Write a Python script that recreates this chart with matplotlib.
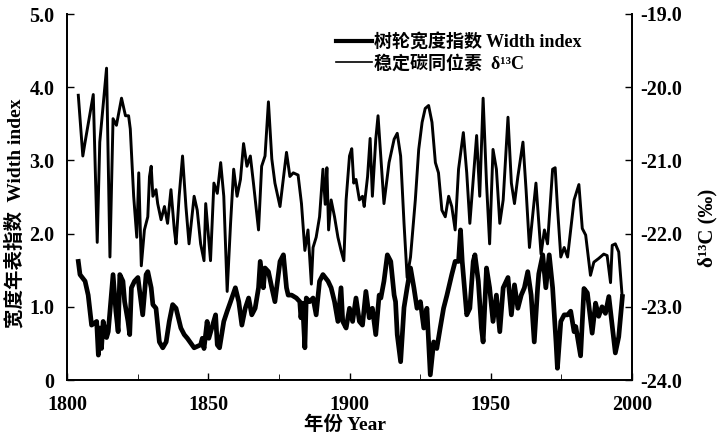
import matplotlib
matplotlib.use("Agg")
import matplotlib.pyplot as plt
from matplotlib.lines import Line2D

# 稳定碳同位素 δ13C (‰), 读图估计的转折点
d13c_years = [1804.0, 1805.6, 1806.4, 1809.3, 1810.7, 1811.6, 1814.0, 1815.2, 1816.3, 1817.5,
              1819.3, 1820.7, 1821.8, 1822.4, 1823.6, 1824.7, 1825.4, 1826.3, 1827.4, 1828.6,
              1829.2, 1829.8, 1830.4, 1831.5, 1832.1, 1833.3, 1834.5, 1835.6, 1836.8, 1838.0,
              1838.6, 1839.7, 1840.9, 1842.1, 1843.2, 1845.0, 1846.1, 1847.3, 1848.5, 1849.1,
              1850.8, 1852.0, 1853.2, 1854.4, 1855.5, 1856.7, 1857.9, 1859.0, 1860.2, 1861.4,
              1862.5, 1863.7, 1864.9, 1866.0, 1867.8, 1868.9, 1870.1, 1871.3, 1872.5, 1873.6,
              1875.4, 1877.7, 1878.9, 1880.1, 1881.8, 1883.0, 1884.2, 1885.3, 1886.5, 1887.1,
              1888.2, 1889.4, 1890.6, 1891.4, 1892.0, 1892.6, 1893.5, 1894.7, 1895.9, 1897.0,
              1898.0, 1898.8, 1900.0, 1900.8, 1901.5, 1902.3, 1903.5, 1904.6, 1905.2, 1906.4,
              1907.3, 1908.1, 1909.3, 1910.1, 1912.2, 1914.0, 1915.8, 1916.9, 1918.1, 1919.3,
              1920.4, 1921.6, 1923.3, 1924.5, 1925.7, 1926.8, 1928.0, 1929.2, 1930.4, 1931.5,
              1932.7, 1933.9, 1935.1, 1936.2, 1937.4, 1938.6, 1940.3, 1941.5, 1942.6, 1945.0,
              1946.1, 1947.3, 1948.5, 1949.6, 1950.8, 1952.0, 1953.2, 1954.4, 1956.1, 1957.3,
              1958.4, 1959.6, 1961.4, 1962.5, 1963.7, 1966.0, 1967.8, 1969.0, 1970.1, 1971.9,
              1972.8, 1973.6, 1974.8, 1976.0, 1977.2, 1979.5, 1981.2, 1982.4, 1983.6, 1985.3,
              1986.5, 1988.2, 1990.0, 1991.2, 1992.4, 1993.0, 1994.1, 1995.3, 1996.6]
d13c_vals = [-20.11, -20.94, -20.75, -20.10, -22.12, -20.75, -19.74, -22.32, -20.43, -20.52,
             -20.15, -20.39, -20.39, -20.57, -21.49, -22.05, -21.17, -22.44, -21.95, -21.77,
             -21.22, -21.08, -21.49, -21.40, -21.59, -21.81, -21.63, -21.86, -21.40, -21.95,
             -22.14, -21.49, -20.94, -21.63, -22.14, -21.49, -21.68, -22.14, -22.37, -21.59,
             -22.37, -21.31, -21.45, -21.03, -21.49, -22.79, -21.86, -21.12, -21.49, -21.26,
             -20.77, -21.08, -20.94, -21.31, -21.95, -21.08, -20.94, -20.20, -20.98, -21.31,
             -21.63, -20.89, -21.22, -21.17, -21.20, -21.59, -22.23, -21.95, -22.69, -22.19,
             -22.05, -21.77, -21.12, -21.60, -21.10, -21.95, -21.54, -21.77, -22.05, -22.23,
             -22.37, -21.54, -20.94, -20.84, -21.31, -21.26, -21.54, -21.49, -21.63, -21.22,
             -20.70, -21.49, -20.71, -20.39, -21.59, -21.03, -20.71, -20.63, -20.94, -21.86,
             -22.60, -22.32, -21.54, -20.85, -20.48, -20.29, -20.25, -20.48, -21.03, -21.17,
             -21.68, -21.77, -21.49, -21.63, -21.95, -21.12, -20.62, -21.17, -21.86, -20.66,
             -21.49, -20.15, -21.31, -22.14, -20.85, -21.12, -21.86, -21.54, -20.41, -21.31,
             -21.59, -21.22, -20.75, -21.40, -22.19, -21.31, -22.28, -21.95, -22.14, -21.12,
             -21.10, -21.63, -22.32, -22.19, -22.32, -21.54, -21.33, -21.93, -22.02, -22.57,
             -22.39, -22.34, -22.28, -22.30, -22.67, -22.16, -22.14, -22.25, -22.90]

# 树轮宽度指数 Width index
width_years = [1804.0, 1804.6, 1806.4, 1807.5, 1808.7, 1810.5, 1811.1, 1811.6, 1812.2, 1812.8,
               1814.0, 1814.6, 1816.3, 1817.3, 1818.1, 1818.7, 1819.8, 1820.4, 1821.6, 1822.2,
               1822.8, 1823.9, 1825.1, 1825.9, 1826.8, 1828.0, 1828.6, 1829.8, 1830.4, 1831.5,
               1832.7, 1833.9, 1835.1, 1836.2, 1837.4, 1838.6, 1840.3, 1841.5, 1842.6, 1845.0,
               1847.3, 1847.9, 1848.5, 1849.6, 1850.2, 1852.6, 1853.2, 1854.0, 1855.5, 1856.7,
               1857.9, 1859.6, 1860.8, 1861.9, 1863.1, 1864.3, 1865.4, 1866.6, 1867.8, 1868.4,
               1869.5, 1870.1, 1871.3, 1872.5, 1873.6, 1875.4, 1876.6, 1877.7, 1878.3, 1879.5,
               1881.2, 1882.4, 1882.8, 1883.4, 1884.2, 1884.7, 1885.9, 1887.1, 1888.2, 1889.4,
               1890.6, 1892.4, 1893.5, 1894.7, 1895.9, 1897.0, 1897.6, 1898.8, 1900.0, 1901.1,
               1902.3, 1903.5, 1904.6, 1905.8, 1907.0, 1908.1, 1909.3, 1910.5, 1911.1, 1912.2,
               1913.4, 1914.6, 1915.8, 1916.3, 1916.9, 1918.1, 1919.3, 1920.4, 1921.6, 1922.8,
               1923.9, 1925.1, 1926.3, 1927.4, 1928.6, 1929.8, 1930.9, 1932.1, 1933.3, 1934.5,
               1936.2, 1937.4, 1938.6, 1939.3, 1939.9, 1941.5, 1942.6, 1943.8, 1944.4, 1945.6,
               1946.7, 1947.3, 1948.5, 1949.6, 1950.8, 1952.0, 1953.2, 1954.4, 1956.1, 1957.3,
               1958.4, 1959.6, 1960.8, 1961.9, 1963.1, 1964.3, 1965.4, 1966.6, 1967.0, 1968.4,
               1969.5, 1970.7, 1971.9, 1973.1, 1973.6, 1974.8, 1976.0, 1977.2, 1978.3, 1979.5,
               1980.1, 1981.8, 1983.0, 1984.2, 1985.9, 1987.1, 1988.2, 1989.4, 1990.6, 1991.8,
               1994.1, 1995.3, 1996.6]
width_vals = [1.62, 1.44, 1.35, 1.16, 0.75, 0.80, 0.34, 0.71, 0.43, 0.80,
              0.58, 0.66, 1.44, 0.94, 0.66, 1.44, 1.35, 1.07, 0.80, 0.62,
              1.26, 1.35, 1.40, 1.16, 0.89, 1.44, 1.48, 1.26, 1.03, 0.98,
              0.52, 0.44, 0.52, 0.80, 1.03, 0.98, 0.71, 0.62, 0.57, 0.44,
              0.48, 0.57, 0.43, 0.80, 0.57, 0.89, 0.48, 0.44, 0.80, 0.94,
              1.07, 1.26, 1.07, 0.75, 0.98, 1.12, 0.89, 0.98, 1.26, 1.62,
              1.26, 1.53, 1.48, 1.26, 1.07, 1.62, 1.71, 1.26, 1.16, 1.16,
              1.12, 1.07, 0.85, 1.05, 0.44, 1.12, 1.07, 1.12, 0.89, 1.35,
              1.44, 1.35, 1.26, 1.07, 0.80, 1.26, 0.80, 0.71, 0.98, 0.80,
              1.12, 0.80, 0.75, 1.21, 0.85, 0.98, 0.62, 1.16, 1.12, 1.35,
              1.71, 1.62, 1.16, 1.07, 0.62, 0.25, 0.99, 1.26, 1.53, 1.26,
              0.98, 1.07, 0.71, 0.98, 0.07, 0.52, 0.43, 0.71, 0.98, 1.16,
              1.44, 1.62, 1.62, 2.05, 1.62, 0.89, 0.98, 1.62, 1.71, 1.35,
              0.71, 0.52, 1.53, 1.26, 0.80, 1.16, 0.66, 1.26, 1.40, 0.89,
              1.30, 0.98, 1.16, 1.26, 1.48, 1.16, 0.52, 1.26, 1.45, 1.71,
              1.26, 1.71, 1.26, 0.52, 0.16, 0.80, 0.89, 0.89, 0.94, 0.66,
              0.73, 0.33, 1.25, 1.19, 0.64, 1.05, 0.87, 1.00, 0.91, 1.14,
              0.37, 0.59, 1.14]

left_ticks = [0, 1, 2, 3, 4, 5]
left_labels = ["0", "1.0", "2.0", "3.0", "4.0", "5.0"]
right_ticks = [-24, -23, -22, -21, -20, -19]
right_labels = ["-24.0", "-23.0", "-22.0", "-21.0", "-20.0", "-19.0"]
year_ticks = [1800, 1850, 1900, 1950, 2000]

SERIF = ["Liberation Serif", "Noto Sans CJK SC"]
plt.rcParams["font.family"] = SERIF

fig = plt.figure(figsize=(7.19, 4.38), dpi=100)
ax = fig.add_axes([67 / 719, 1 - 380 / 438, (632 - 67) / 719, (380 - 14) / 438])
ax2 = ax.twinx()

ax.plot(width_years, width_vals, color="black", lw=3.4, solid_joinstyle="round")
ax2.plot(d13c_years, d13c_vals, color="black", lw=2.1, solid_joinstyle="round")

ax.set_xlim(1800, 2000)
ax.set_ylim(0, 5)
ax2.set_ylim(-24, -19)

ax.set_xticks(year_ticks)
ax.set_xticks([1825, 1875, 1925, 1975], minor=True)
ax.set_xticklabels([str(y) for y in year_ticks])
ax.set_yticks(left_ticks)
ax.set_yticklabels(left_labels)
ax2.set_yticks(right_ticks)
ax2.set_yticklabels(right_labels)

for a in (ax, ax2):
    a.spines["top"].set_visible(False)
    for s in a.spines.values():
        s.set_linewidth(1.3)
    a.tick_params(direction="in", length=5, width=1.0, labelsize=14.5)
    for lab in a.get_xticklabels() + a.get_yticklabels():
        lab.set_fontweight("bold")
ax.tick_params(axis="x", which="minor", direction="in", length=4)
ax.tick_params(axis="x", pad=11)
ax.tick_params(axis="y", pad=9)
ax2.tick_params(axis="y", pad=6)

# 轴标题
fig.text(15 / 719, 1 - 213 / 438, "宽度年表指数  Width index", rotation=90,
         ha="center", va="center", fontsize=14, fontweight="bold")
fig.text(707 / 719, 1 - 228 / 438, "δ¹³C (‰)", rotation=90,
         ha="center", va="center", fontsize=15, fontweight="bold")
fig.text(345 / 719, 1 - 425 / 438, "年份 Year", ha="center", va="center",
         fontsize=14, fontweight="bold")

handles = [Line2D([], [], color="black", lw=3.0),
           Line2D([], [], color="black", lw=1.2)]
labels = ["树轮宽度指数 Width index", "稳定碳同位素  δ¹³C"]
fig.legend(handles, labels, loc="upper left", bbox_to_anchor=(320 / 719, 1 - 17 / 438),
           frameon=False, handlelength=2.0, handletextpad=0.1, labelspacing=0.2,
           prop={"family": SERIF, "size": 13, "weight": "bold"})

fig.savefig("out.png", dpi=100)
